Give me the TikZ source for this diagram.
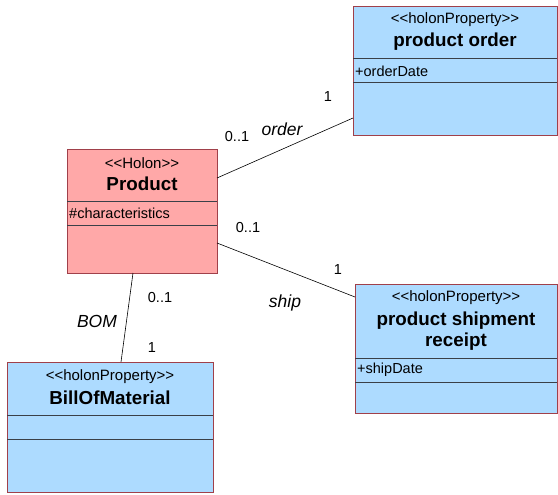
\documentclass[tikz,border=0pt]{standalone}
\usepackage{fontspec}
\setmainfont[Ligatures=TeXOff]{Liberation Sans}
\definecolor{propblue}{HTML}{ADDBFF}
\definecolor{holonpink}{HTML}{FFA8A8}
\definecolor{boxborder}{HTML}{A0404A}
\definecolor{sepline}{HTML}{3A4048}
\tikzset{
  classbox/.style={draw=boxborder, line width=0.9pt, inner sep=0pt, outer sep=0pt},
  propbox/.style={classbox, fill=propblue},
  holonbox/.style={classbox, fill=holonpink},
  sep/.style={draw=sepline, line width=0.8pt},
  stereo/.style={font=\fontsize{15}{17}\selectfont, inner sep=0pt},
  ctitle/.style={font=\fontsize{18.8}{21}\selectfont\bfseries, inner sep=0pt, align=center},
  attr/.style={font=\fontsize{14.5}{17}\selectfont, inner sep=0pt, anchor=west},
  assoc/.style={draw=black, line width=0.6pt},
  mult/.style={font=\fontsize{14.5}{17}\selectfont, inner sep=0pt},
  rolename/.style={font=\fontsize{17.5}{20}\selectfont\itshape, inner sep=0pt}
}
\begin{document}
\begin{tikzpicture}[x=1pt,y=-1pt]
\useasboundingbox (0,0) rectangle (558,495);
% boxes
\node[propbox, minimum width=204pt, minimum height=129pt] (po) at (455,70.5) {};
\node[holonbox, minimum width=150pt, minimum height=124pt] (prod) at (142,211) {};
\node[propbox, minimum width=202pt, minimum height=129pt] (ship) at (456,348.5) {};
\node[propbox, minimum width=206pt, minimum height=130pt] (bom) at (110,427) {};
% product order
\node[stereo] (pos) at (455,20) {<<holonProperty>>};
\node[ctitle] (pot) at (455,42) {product order};
\draw[sep] (po.west |- 0,58) -- (po.east |- 0,58);
\draw[sep] (po.west |- 0,82) -- (po.east |- 0,82);
\node[attr] (poa) at (355,71) {+orderDate};
% product
\node[stereo] (prs) at (142,163) {<<Holon>>};
\node[ctitle] (prt) at (142,184) {Product};
\draw[sep] (prod.west |- 0,201) -- (prod.east |- 0,201);
\draw[sep] (prod.west |- 0,225) -- (prod.east |- 0,225);
\node[attr] (pra) at (69,213) {\#characteristics};
% shipment receipt
\node[stereo] (shs) at (456,298) {<<holonProperty>>};
\node[ctitle] (sht) at (456,331.5) {product shipment\\receipt};
\draw[sep] (ship.west |- 0,358) -- (ship.east |- 0,358);
\draw[sep] (ship.west |- 0,382) -- (ship.east |- 0,382);
\node[attr] (sha) at (357,370) {+shipDate};
% BOM
\node[stereo] (bos) at (110,377) {<<holonProperty>>};
\node[ctitle] (bot) at (110,398) {BillOfMaterial};
\draw[sep] (bom.west |- 0,415) -- (bom.east |- 0,415);
\draw[sep] (bom.west |- 0,439) -- (bom.east |- 0,439);
% connector end points
\coordinate (o1) at (prod.east |- 0,178);
\coordinate (o2) at (po.west |- 0,118);
\coordinate (s1) at (prod.east |- 0,243);
\coordinate (s2) at (ship.west |- 0,297);
\coordinate (b1) at (133,273);
\coordinate (b2) at (121,362);
\draw[assoc] (o1) -- (o2);
\draw[assoc] (s1) -- (s2);
\draw[assoc] (b1) -- (b2);
% labels
\node[mult] (m1) at (328,97) {1};
\node[mult] (m2) at (237,137) {0..1};
\node[rolename] (rorder) at (282,129) {order};
\node[mult] (m3) at (248,228) {0..1};
\node[mult] (m4) at (338,270) {1};
\node[rolename] (rship) at (285,303) {ship};
\node[mult] (m5) at (160,298) {0..1};
\node[rolename] (rbom) at (97,321) {BOM};
\node[mult] (m6) at (152,348) {1};
\end{tikzpicture}
\end{document}
